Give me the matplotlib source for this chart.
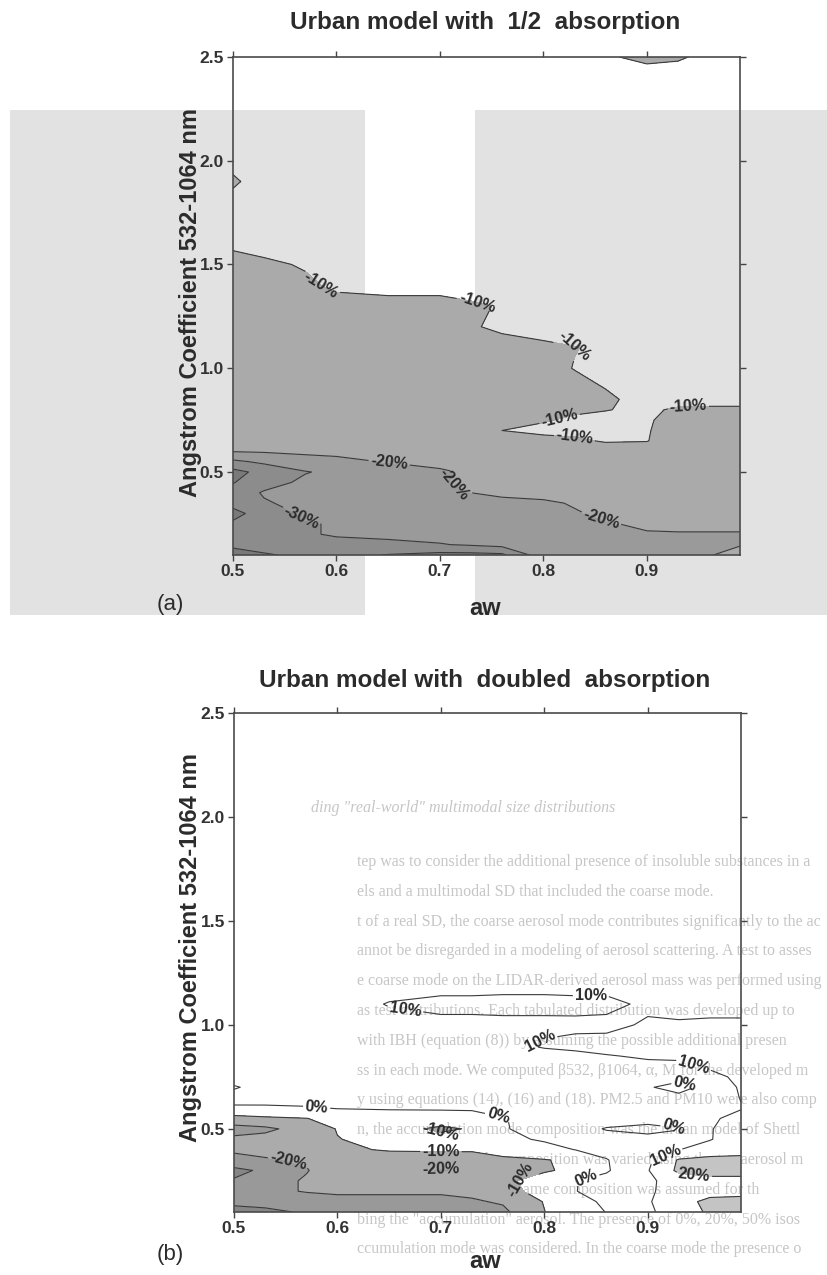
import numpy as np
import matplotlib
matplotlib.use('Agg')
from matplotlib import pyplot as plt
from matplotlib.patches import Rectangle

plt.rcParams['font.family'] = ['Liberation Sans', 'DejaVu Sans']

# grid nodes: aw (x) and Angstrom coefficient 532-1064 nm (y)
aw = [0.50, 0.53, 0.57, 0.60, 0.65, 0.70, 0.73, 0.76, 0.80, 0.83, 0.86, 0.90, 0.93, 0.96, 0.99]
alpha = [0.10, 0.15, 0.20, 0.25, 0.30, 0.35, 0.40, 0.45, 0.50, 0.55, 0.60, 0.65, 0.70, 0.75,
         0.80, 0.85, 0.90, 1.00, 1.10, 1.20, 1.30, 1.40, 1.50, 1.60, 1.80, 1.90, 2.00, 2.40, 2.50]

# mass error [%], urban model with 1/2 absorption (one row per alpha)
err_half = [
    [-42, -41, -38, -37, -40.5, -43, -43, -42, -24, -24, -23, -22.5, -22, -20.5, -17],
    [-39, -36, -34, -33, -32, -30.5, -29, -27, -26, -25, -24, -23, -22, -21, -20.5],
    [-37, -35, -31, -29, -28, -27, -26, -25, -24, -23, -22, -20.5, -20.3, -20.3, -20.3],
    [-39, -35, -31, -29, -27, -26, -25, -24, -23, -22, -20.5, -19, -19, -19, -19],
    [-42, -37, -28, -27, -26, -25, -24, -23, -22, -20.5, -19, -18, -18, -18, -18],
    [-38, -31, -27, -26, -25, -24, -23, -22, -21, -19.5, -18, -17, -17, -17, -17],
    [-36, -29, -26, -25, -24, -22, -20, -18.5, -18, -17, -17, -16, -16, -16, -16],
    [-40.5, -34, -28, -26, -23, -20.5, -19, -18, -17, -17, -16, -16, -16, -16, -16],
    [-43, -37, -30.5, -28, -25, -21, -19, -17, -16, -16, -15, -15, -15, -15, -15],
    [-32, -28, -24, -22, -19.5, -18, -17, -16, -15, -15, -14, -14, -15, -15, -15],
    [-19.5, -19, -18, -18, -17, -17, -16, -15, -14, -14, -13, -13, -14, -14, -14],
    [-19, -19, -18, -18, -17, -17, -16, -14, -12, -11, -9.5, -9.8, -13, -13, -13],
    [-19, -18, -18, -17, -17, -16, -14, -10, -8.5, -8.5, -9, -9.7, -12, -12, -12],
    [-18, -18, -17, -17, -16, -16, -15, -14, -10.5, -9, -8.5, -9.7, -11, -12, -12],
    [-18, -17, -17, -16, -16, -15, -15, -14, -13, -11, -10.2, -9, -10.8, -11, -11],
    [-17, -17, -16, -16, -15, -15, -14, -14, -13, -12, -10.5, -9, -8, -8, -8],
    [-17, -17, -16, -16, -15, -15, -14, -14, -13, -12, -10, -8, -7, -7, -7],
    [-17, -16, -16, -15, -15, -14, -14, -13, -12, -9.8, -8.5, -8, -7, -7, -7],
    [-16, -15, -15, -14, -14, -13, -13, -12, -11, -10.2, -9, -8, -7, -7, -7],
    [-15, -14, -14, -13, -13, -12, -10.5, -9, -8, -7, -6, -6, -6, -6, -6],
    [-14, -13, -13, -12, -12, -12, -11, -9.5, -8, -7, -6, -6, -6, -6, -6],
    [-13, -12, -11, -9, -8, -8, -7, -6, -6, -5, -5, -5, -5, -5, -5],
    [-12, -11, -9.5, -8, -7, -6, -6, -6, -5, -5, -5, -5, -5, -5, -5],
    [-9, -8, -7, -6, -5, -5, -5, -5, -5, -5, -5, -5, -5, -5, -5],
    [-8, -6, -5, -5, -5, -5, -5, -5, -5, -5, -5, -5, -5, -5, -5],
    [-11, -7, -5, -5, -5, -5, -5, -5, -5, -5, -5, -5, -5, -5, -5],
    [-8, -6, -5, -5, -5, -5, -5, -5, -5, -5, -5, -5, -5, -5, -5],
    [-6, -6, -6, -6, -6, -6, -6, -6, -6, -6, -6, -6, -6, -6, -6],
    [-6, -6, -6, -6, -6, -6, -6, -6, -6, -7, -9, -12, -11, -8, -6],
]

# mass error [%], urban model with doubled absorption
err_double = [
    [-33, -32, -29, -26, -27, -27, -25, -22, -10.2, -4, 0.2, 9, 13, 22, 23],
    [-28, -27, -24, -22, -22, -22, -21, -19, -9.5, -2, 1, 9, 17, 22, 23],
    [-24, -22, -19.5, -19, -19, -19, -18, -12, -8, -0.2, 3, 9, 13, 17, 17],
    [-29, -24, -19, -15, -14, -14, -13, -11, -8, -0.3, 3, 8, 15, 17, 17],
    [-33, -28, -20.5, -15, -14, -21.5, -17, -13, -10.5, -9, -1, 9.5, 22, 24, 24],
    [-22, -21, -19, -15, -13, -12, -12, -11.5, -10.5, -8, -0.5, 8, 21, 23, 23],
    [-19, -17, -14, -11, -9.5, -9.5, -9.5, -7, -3, 0.2, 3, 5, 9.8, 14, 16],
    [-18, -17, -14, -10.3, -7, -6, -5, -2, 1, 3, 3, 3, 4, 9.5, 15],
    [-24, -22, -16, -9.5, -6, -12, -9, -0.5, 2.5, 3, -0.5, -3, -0.5, 9.5, 14],
    [-13, -11.5, -10.2, -7, -5, -4, -3, -0.2, 1.5, 3, 3.5, 4, 6, 9, 12],
    [-2.5, -2, -1, 0.5, 1, 1, 1, 1.5, 3, 3.5, 3.5, 3.5, 4, 6, 9.6],
    [6, 5, 5, 5, 5, 5, 5, 5, 5, 4.5, 4, 3, 3, 5, 10.3],
    [11, 6, 6, 6, 6, 6, 6, 6, 5.5, 5, 4, 1, -4, 4, 11],
    [5, 5.5, 6, 6, 6, 6, 6, 6, 6, 6, 5.5, 5, 4, 8, 11.5],
    [5, 5, 5, 5.5, 6, 6.5, 7, 7, 6.5, 7, 7, 8, 8, 11, 12],
    [5, 5, 5, 5.5, 6.5, 7, 7.5, 7.5, 7, 8, 9.5, 11, 11.5, 12, 12],
    [5, 5, 5, 6, 7, 7.5, 8, 8, 11, 12, 13, 13, 13, 13, 13],
    [5, 5, 5, 6, 7, 8, 8, 8, 8, 8.5, 8, 11, 11, 11.5, 11.5],
    [5, 5, 5, 6, 10.5, 12, 12, 12.5, 12.5, 12, 12, 8.5, 7, 7, 7],
    [5, 5, 5, 5, 6, 7, 7, 7, 7, 7, 7, 7, 6, 6, 6],
    [5, 5, 5, 5, 5, 5, 5, 5, 5, 5, 5, 5, 5, 5, 5],
    [5, 5, 5, 5, 5, 5, 5, 5, 5, 5, 5, 5, 5, 5, 5],
    [5, 5, 5, 5, 5, 5, 5, 5, 5, 5, 5, 5, 5, 5, 5],
    [5, 5, 5, 5, 5, 5, 5, 5, 5, 5, 5, 5, 5, 5, 5],
    [5, 5, 5, 5, 5, 5, 5, 5, 5, 5, 5, 5, 5, 5, 5],
    [5, 5, 5, 5, 5, 5, 5, 5, 5, 5, 5, 5, 5, 5, 5],
    [5, 5, 5, 5, 5, 5, 5, 5, 5, 5, 5, 5, 5, 5, 5],
    [5, 5, 5, 5, 5, 5, 5, 5, 5, 5, 5, 5, 5, 5, 5],
    [5, 5, 5, 5, 5, 5, 5, 5, 5, 5, 5, 5, 5, 5, 5],
]

xticks = [0.5, 0.6, 0.7, 0.8, 0.9]
yticks = [0.5, 1.0, 1.5, 2.0, 2.5]

# text of the next page that shows through the scan (faint)
ghost_heading = 'ding "real-world" multimodal size distributions'
ghost_lines = [
    'tep was to consider the additional presence of insoluble substances in a',
    'els and a multimodal SD that included the coarse mode.',
    't of a real SD, the coarse aerosol mode contributes significantly to the ac',
    'annot be disregarded in a modeling of aerosol scattering. A test to asses',
    'e coarse mode on the LIDAR-derived aerosol mass was performed using',
    'as test distributions. Each tabulated distribution was developed up to',
    'with IBH (equation (8)) by assuming the possible additional presen',
    'ss in each mode. We computed \u03b2532, \u03b21064, \u03b1, M for the developed m',
    'y using equations (14), (16) and (18). PM2.5 and PM10 were also comp',
    'n, the accumulation mode composition was the urban model of Shettl',
    ', and the coarse mode composition was varied using the ten aerosol m',
    'the SD (13) and (14) the same composition was assumed for th',
    'bing the "accumulation" aerosol. The presence of 0%, 20%, 50% isos',
    'ccumulation mode was considered. In the coarse mode the presence o',
]

ink = '#2b2b2b'
ghost = '#c6c6c6'

fig = plt.figure(figsize=(8.28, 12.75), dpi=100)

# scanned page tone behind panel (a)
for x0, w in [(0.012, 0.429), (0.5737, 0.4263)]:
    fig.add_artist(Rectangle((x0, 0.5176), w, 0.396, transform=fig.transFigure,
                             facecolor='#e2e2e2', edgecolor='none', zorder=-5))

# show-through text in the lower half
fig.text(311 / 828, 1 - 808 / 1275, ghost_heading, ha='left', va='center', fontsize=11.5,
         family=['Liberation Serif', 'DejaVu Serif'], style='italic', color=ghost, zorder=-4)
for i, line in enumerate(ghost_lines):
    ypx = 862 + i * 29.8
    fig.text(357 / 828, 1 - ypx / 1275, line, ha='left', va='center', fontsize=11.5,
             family=['Liberation Serif', 'DejaVu Serif'], color=ghost, zorder=-4)

ax1 = fig.add_axes([0.2814, 0.5647, 0.6123, 0.3906])
ax2 = fig.add_axes([0.2826, 0.0494, 0.6123, 0.3914])


def style_axes(ax):
    ax.set_facecolor('none')
    ax.set_xlim(0.5, 0.99)
    ax.set_ylim(0.1, 2.5)
    ax.set_xticks(xticks)
    ax.set_yticks(yticks)
    ax.set_xticklabels(['%.1f' % t for t in xticks], fontweight='bold')
    ax.set_yticklabels(['%.1f' % t for t in yticks], fontweight='bold')
    ax.tick_params(direction='out', length=4, width=1, top=True, right=True,
                   labelsize=12.5, pad=2.5, colors='#444444', labelcolor='#333333')
    for sp in ax.spines.values():
        sp.set_color('#4a4a4a')
        sp.set_linewidth(1.2)


def contour_line(ax, z, level, spots=None):
    # one contour set per level, so clabel only sees that level
    cs = ax.contour(aw, alpha, z, levels=[level], colors='#3a3a3a', linewidths=0.8,
                    linestyles='solid')
    if spots:
        txts = cs.clabel(manual=spots, fmt=lambda v: '%d%%' % v, fontsize=11.5,
                         inline=True, inline_spacing=2, colors=ink)
        for t in txts:
            t.set_fontweight('bold')


# (a) 1/2 absorption
style_axes(ax1)
ax1.contourf(aw, alpha, err_half, levels=[-60, -40, -30, -20, -10, 60],
             colors=['#7a7a7a', '#8c8c8c', '#9a9a9a', '#aaaaaa', 'none'])
contour_line(ax1, err_half, -40)
contour_line(ax1, err_half, -30, [(0.565, 0.275)])
contour_line(ax1, err_half, -20, [(0.65, 0.505), (0.71, 0.41), (0.855, 0.26)])
contour_line(ax1, err_half, -10, [(0.585, 1.40), (0.735, 1.30), (0.83, 1.12),
                                  (0.815, 0.77), (0.83, 0.665), (0.94, 0.81)])

# (b) doubled absorption
style_axes(ax2)
ax2.contourf(aw, alpha, err_double, levels=[-60, -30, -20, -10, 20, 60],
             colors=['#868686', '#999999', '#ababab', 'none', '#c4c4c4'])
contour_line(ax2, err_double, -30)
contour_line(ax2, err_double, -20, [(0.55, 0.31), (0.70, 0.30)])
contour_line(ax2, err_double, -10, [(0.70, 0.495), (0.70, 0.385), (0.775, 0.27)])
contour_line(ax2, err_double, 0, [(0.58, 0.61), (0.755, 0.55), (0.84, 0.27),
                                  (0.935, 0.71), (0.925, 0.50)])
contour_line(ax2, err_double, 10, [(0.666, 1.09), (0.845, 1.14), (0.795, 0.93),
                                   (0.945, 0.82), (0.918, 0.36)])
contour_line(ax2, err_double, 20, [(0.945, 0.29)])

# titles and axis labels
fig.text(0.5857, 0.9827, 'Urban model with  1/2  absorption', ha='center', va='center',
         fontsize=17.5, fontweight='bold', color=ink)
fig.text(0.585, 0.4659, 'Urban model with  doubled  absorption', ha='center', va='center',
         fontsize=17.5, fontweight='bold', color=ink)
for yc in [0.7624, 0.2565]:
    fig.text(0.2295, yc, 'Angstrom Coefficient 532-1064 nm', rotation=90, ha='center',
             va='center', fontsize=17, fontweight='bold', color=ink)
for yc in [0.5231, 0.0102]:
    fig.text(0.5857, yc, 'aw', ha='center', va='center', fontsize=17,
             fontweight='bold', color=ink)
fig.text(0.2053, 0.5255, '(a)', ha='center', va='center', fontsize=16, color=ink)
fig.text(0.2053, 0.0157, '(b)', ha='center', va='center', fontsize=16, color=ink)

fig.savefig('out.png', dpi=100)
